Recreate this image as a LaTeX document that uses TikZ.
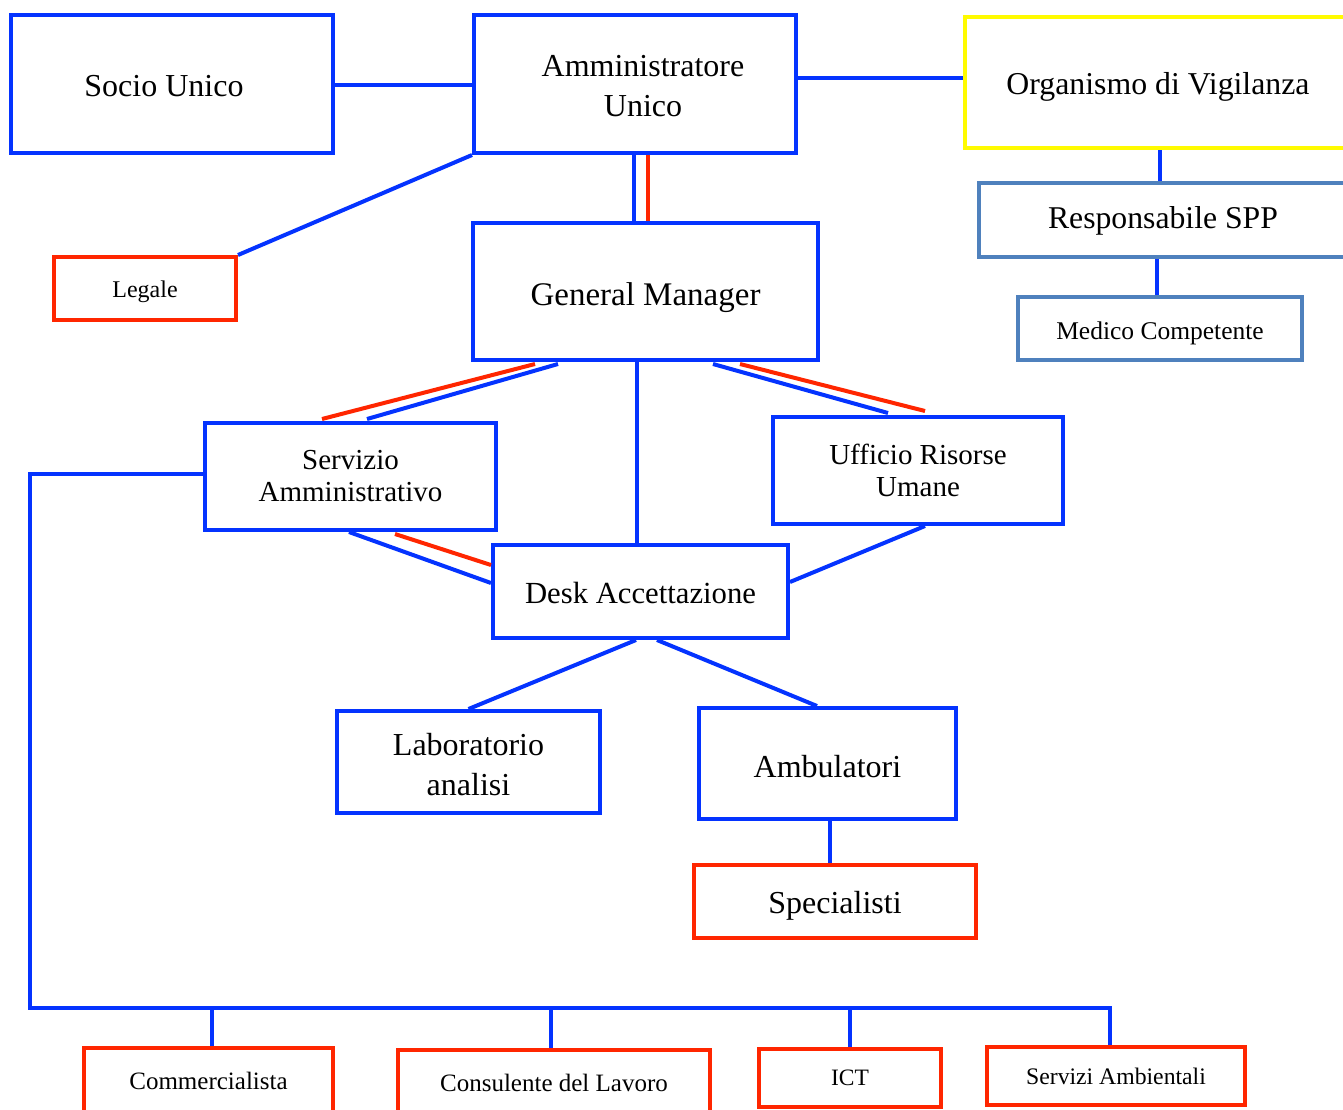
\documentclass[tikz,border=0pt]{standalone}
\usepackage{fontspec}
\setmainfont{Liberation Serif}
\usetikzlibrary{calc,shadows}
\definecolor{cblue}{RGB}{4,51,255}
\definecolor{cred}{RGB}{255,38,0}
\definecolor{cyel}{RGB}{255,251,0}
\definecolor{csteel}{RGB}{79,129,189}
\newcommand{\txtdown}[2]{\raisebox{-#1}[\height][\depth]{#2}}
\tikzset{
  bx/.style={draw=cblue, line width=4pt, rectangle, inner sep=0pt, align=center, fill=white},
  rbx/.style={bx, draw=cred},
  ybx/.style={bx, draw=cyel, drop shadow={opacity=0.25, shadow xshift=2pt, shadow yshift=-2pt}},
  sbx/.style={bx, draw=csteel, drop shadow={opacity=0.25, shadow xshift=2pt, shadow yshift=-2pt}},
  bl/.style={draw=cblue, line width=4pt},
  rl/.style={draw=cred, line width=4pt},
  big/.style={font=\fontsize{32}{40}\selectfont},
  mid/.style={font=\fontsize{29}{32}\selectfont},
  sml/.style={font=\fontsize{25}{28}\selectfont},
}
\begin{document}
\begin{tikzpicture}[x=1pt,y=-1pt]
\clip (0,0) rectangle (1343,1109);
\fill[white] (0,0) rectangle (1343,1109);
% boxes
\node[bx,big,minimum width=322,minimum height=138] (soc) at (172,84) {\txtdown{2pt}{Socio Unico}\hspace{16pt}};
\node[bx,big,minimum width=322,minimum height=138] (amm) at (635,84) {\txtdown{4pt}{\begin{tabular}{@{}c@{}}Amministratore\\Unico\end{tabular}}\hspace{-16pt}};
\node[ybx,font=\fontsize{31.8}{36}\selectfont,minimum width=386,minimum height=131] (org) at (1158,82.5) {\txtdown{4pt}{Organismo di Vigilanza}};
\node[sbx,font=\fontsize{31.7}{36}\selectfont,minimum width=368,minimum height=74] (rspp) at (1163,220) {\txtdown{1pt}{Responsabile SPP}};
\node[sbx,font=\fontsize{25.5}{28}\selectfont,minimum width=284,minimum height=63] (med) at (1160,328.5) {\txtdown{5pt}{Medico Competente}};
\node[rbx,font=\fontsize{24}{28}\selectfont,minimum width=182,minimum height=63] (leg) at (145,288.5) {\txtdown{3pt}{Legale}};
\node[bx,font=\fontsize{33}{40}\selectfont,minimum width=345,minimum height=137] (gm) at (645.5,291.5) {\txtdown{6pt}{General Manager}};
\node[bx,mid,minimum width=291,minimum height=107] (sa) at (350.5,476.5) {Servizio\\Amministrativo};
\node[bx,mid,minimum width=290,minimum height=107] (uff) at (918,470.5) {Ufficio Risorse\\Umane};
\node[bx,font=\fontsize{30.7}{36}\selectfont,minimum width=295,minimum height=93] (desk) at (640.5,591.5) {\txtdown{1pt}{Desk Accettazione}};
\node[bx,big,minimum width=263,minimum height=102] (lab) at (468.5,762) {\txtdown{5pt}{\begin{tabular}{@{}c@{}}Laboratorio\\analisi\end{tabular}}};
\node[bx,big,minimum width=257,minimum height=111] (amb) at (827.5,763.5) {\txtdown{3pt}{Ambulatori}};
\node[rbx,big,minimum width=282,minimum height=73] (spec) at (835,901.5) {\txtdown{4pt}{Specialisti}};
\node[rbx,sml,minimum width=249,minimum height=66] (comm) at (208.5,1081) {Commercialista};
\node[rbx,sml,minimum width=312,minimum height=66] (cons) at (554,1083) {Consulente del Lavoro};
\node[rbx,font=\fontsize{23.5}{28}\selectfont,minimum width=182,minimum height=58] (ict) at (850,1078) {ICT};
\node[rbx,font=\fontsize{23.7}{28}\selectfont,minimum width=258,minimum height=58] (samb) at (1116,1076) {Servizi Ambientali};
% connectors
\draw[bl] ([yshift=-1pt]soc.east) -- ([yshift=-1pt]soc.east -| amm.west);
\draw[bl] ([yshift=6pt]amm.east) -- ([yshift=6pt]amm.east -| org.west);
\draw[bl] (amm.south west) -- (leg.north east);
\draw[bl] ([xshift=-11.5pt]gm.north) -- ([xshift=-11.5pt]gm.north |- amm.south);
\draw[rl] ([xshift=2.5pt]gm.north) -- ([xshift=2.5pt]gm.north |- amm.south);
\draw[bl] ([xshift=2pt]org.south) -- ([xshift=2pt]org.south |- rspp.north);
\draw[bl] ([xshift=-6pt]rspp.south) -- ([xshift=-6pt]rspp.south |- med.north);
\draw[rl] ([xshift=-110.5pt,yshift=-2pt]gm.south) -- ([xshift=-28.5pt,yshift=2pt]sa.north);
\draw[bl] ([xshift=-87.5pt,yshift=-2pt]gm.south) -- ([xshift=16.5pt,yshift=2pt]sa.north);
\draw[bl] ([xshift=67.5pt,yshift=-2pt]gm.south) -- ([xshift=-30pt,yshift=2pt]uff.north);
\draw[rl] ([xshift=94.5pt,yshift=-2pt]gm.south) -- ([xshift=7pt,yshift=4pt]uff.north);
\draw[bl] ([xshift=-8.5pt]gm.south) -- ([xshift=-8.5pt]gm.south |- desk.north);
\draw[bl] ([xshift=-1.5pt]sa.south) -- ([yshift=8.5pt]desk.west);
\draw[rl] ([xshift=44.5pt,yshift=-2pt]sa.south) -- ([yshift=26.5pt]desk.west);
\draw[bl] ([xshift=7pt]uff.south) -- ([yshift=9.5pt]desk.east);
\draw[bl] ([xshift=-4.5pt]desk.south) -- (lab.north);
\draw[bl] ([xshift=16.5pt]desk.south) -- ([xshift=-10.5pt]amb.north);
\draw[bl] ([xshift=2.5pt]amb.south) -- ([xshift=2.5pt]amb.south |- spec.north);
% bus
\coordinate (busl) at (30,1008);
\coordinate (busr) at (1110,1008);
\draw[bl] ([yshift=2.5pt]sa.west) -| (busl) -- (busr) -- (busr |- samb.north);
\draw[bl] ([xshift=3.5pt]comm.north) -- ([xshift=3.5pt]comm.north |- busl);
\draw[bl] ([xshift=-3pt]cons.north) -- ([xshift=-3pt]cons.north |- busl);
\draw[bl] (ict.north) -- (ict.north |- busl);
\end{tikzpicture}
\end{document}
